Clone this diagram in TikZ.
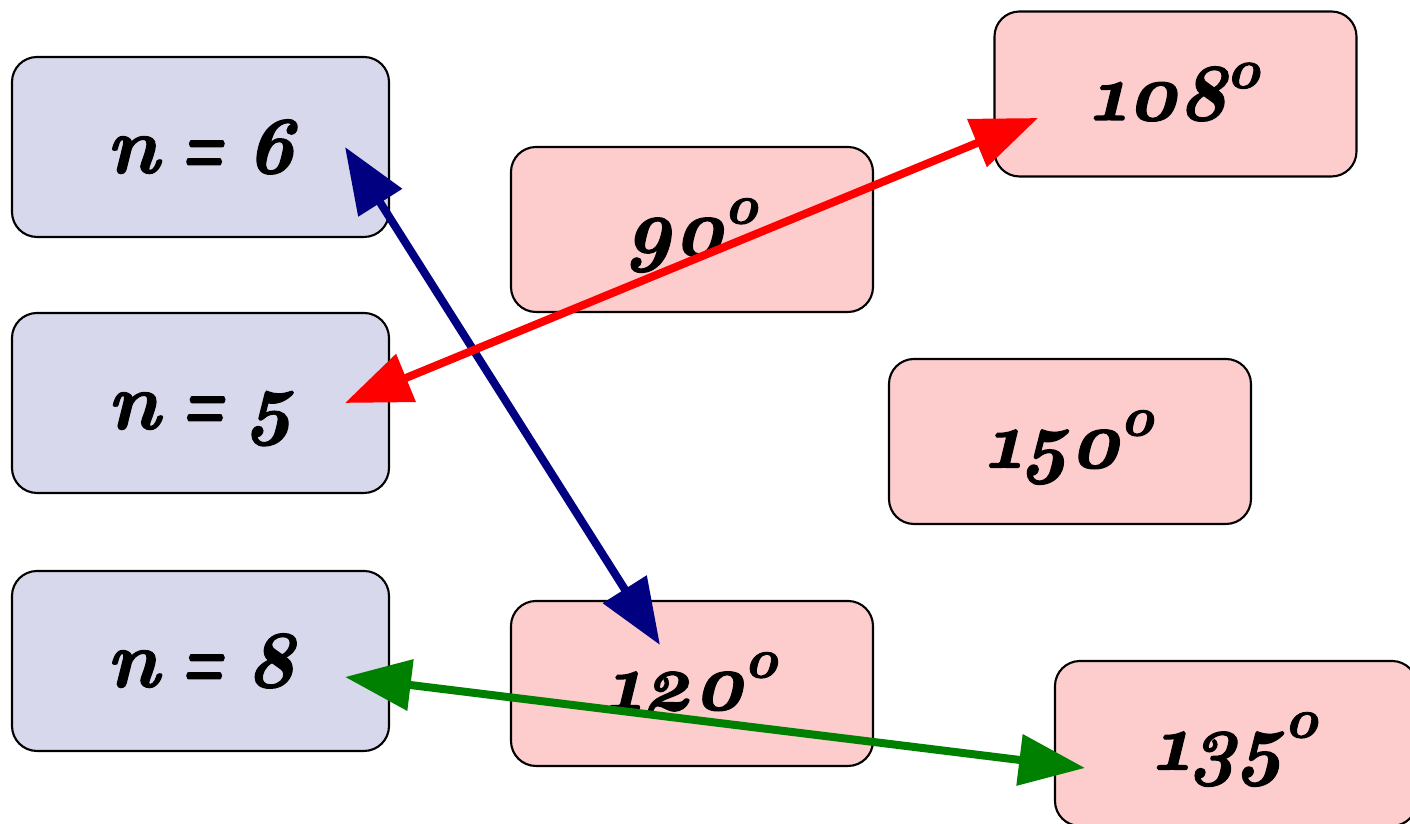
\documentclass[tikz,border=0pt]{standalone}
\usepackage{fontspec}
\setmainfont{Latin Modern Roman}[Numbers=OldStyle]
\usetikzlibrary{arrows.meta,calc}
\definecolor{nfill}{RGB}{216,216,236}
\definecolor{afill}{RGB}{253,204,204}
\definecolor{navyc}{RGB}{0,0,128}
\definecolor{greenc}{RGB}{0,128,0}
\definecolor{redc}{RGB}{255,0,0}
\tikzset{
  basebox/.style={draw=black, line width=0.6pt, rounded corners=0.25cm, inner sep=0pt,
    text height=0.52cm, text depth=0cm,
    font=\fontsize{23}{27}\selectfont\bfseries\itshape\addfontfeature{FakeBold=1.6}},
  nbox/.style={basebox, fill=nfill, minimum width=3.77cm, minimum height=1.8cm},
  abox/.style={basebox, fill=afill, minimum width=3.62cm, minimum height=1.65cm},
  conn/.style={line width=0.08cm,
    {Triangle[length=0.66cm,width=0.5cm]}-{Triangle[length=0.66cm,width=0.5cm]}}
}
\newcommand{\dg}[1]{#1\textsuperscript{o}}
\newcommand{\eqs}{\hspace{0.22cm}\scalebox{0.6}[1]{\addfontfeature{FakeBold=3}=}\hspace{0.22cm}}
\begin{document}
\begin{tikzpicture}
\useasboundingbox (0,0) rectangle (14.1,-8.24);
\clip (0,0) rectangle (14.1,-8.24);
\node[nbox] (n6) at (2.005,-1.47) {n\eqs6};
\node[nbox] (n5) at (2.005,-4.03) {n\eqs5};
\node[nbox] (n8) at (2.005,-6.61) {n\eqs8};
\node[abox] (a90) at (6.92,-2.295) {\dg{90}};
\node[abox] (a108) at (11.755,-0.94) {\dg{108}};
\node[abox] (a150) at (10.70,-4.415) {\dg{150}};
\node[abox] (a120) at (6.92,-6.835) {\dg{120}};
\node[abox] (a135) at (12.36,-7.435) {\dg{135}};
\coordinate (n6p) at ($(n6.center)+(1.445,0)$);
\coordinate (n5p) at ($(n5.center)+(1.445,0)$);
\coordinate (n8p) at ($(n8.center)+(1.445,-0.16)$);
\coordinate (a120p) at ($(a120.center)+(-0.32,0.385)$);
\coordinate (a108p) at ($(a108.center)+(-1.375,-0.24)$);
\coordinate (a135p) at ($(a135.center)+(-1.51,-0.245)$);
\draw[conn, draw=navyc, fill=navyc] (n6p) -- (a120p);
\draw[conn, draw=redc, fill=redc] (n5p) -- (a108p);
\draw[conn, draw=greenc, fill=greenc] (n8p) -- (a135p);
\end{tikzpicture}
\end{document}
